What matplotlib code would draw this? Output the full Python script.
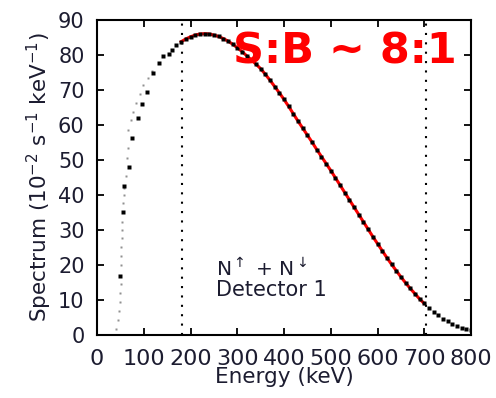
import numpy as np
import matplotlib
matplotlib.use("Agg")
import matplotlib.pyplot as plt

# main spectrum points (keV, 10^-2 s^-1 keV^-1)
energy = [160, 170, 180, 190, 200, 210, 220, 230, 240, 250, 260, 270, 280, 290,
          300, 310, 320, 330, 340, 350, 360, 370, 380, 390, 400, 410, 420, 430,
          440, 450, 460, 470, 480, 490, 500, 510, 520, 530, 540, 550, 560, 570,
          580, 590, 600, 610, 620, 630, 640, 650, 660, 670, 680, 690, 700, 710,
          720, 730, 740, 750, 760, 770, 780, 790, 800]
spectrum = [81.5, 82.8, 83.8, 84.6, 85.2, 85.7, 86.0, 86.1, 86.0, 85.7, 85.3, 84.7,
            84.0, 83.1, 82.1, 81.0, 79.8, 78.6, 77.4, 76.1, 74.5, 72.8, 71.0, 69.2,
            67.3, 65.3, 63.2, 61.1, 59.1, 57.1, 55.1, 53.0, 51.0, 49.0, 47.0, 44.9,
            42.8, 40.7, 38.6, 36.5, 34.4, 32.3, 30.2, 28.1, 26.1, 24.1, 22.1, 20.2,
            18.4, 16.6, 14.9, 13.3, 11.8, 10.3, 9.0, 7.8, 6.7, 5.6, 4.7, 3.9, 3.2,
            2.6, 2.1, 1.7, 1.3]

# rising edge, darker points
edge_e = [48.5, 55.7, 58.5, 68.5, 74, 88.5, 95.6, 106, 120.7, 133, 142, 153]
edge_s = [16.9, 35.2, 42.6, 48.1, 56.2, 61.9, 66.0, 69.5, 74.9, 77.6, 79.7, 80.3]

# rising edge, faint points
faint_e = [40, 44, 46, 49, 50, 50.5, 51, 52, 52, 53, 54, 54.5, 56, 57, 57.5,
           61, 63.5, 65.5, 67, 73, 78, 83.5, 92, 99, 110, 118]
faint_s = [1.6, 4.3, 6.9, 9.5, 12.1, 14.6, 20.0, 22.6, 25.2, 27.6, 30.0, 32.4,
           37.6, 40.0, 42.0, 45.5, 50.5, 53.3, 58.6, 61.4, 63.8, 66.4, 69.0,
           71.4, 73.3, 75.5]

fit_range = (180, 700)
cut_lines = [182, 703]

fig = plt.figure(figsize=(4.96, 3.98), dpi=100)
ax = fig.add_axes([0.1956, 0.1583, 0.7540, 0.7914])

e = np.array(energy)
s = np.array(spectrum)
m = (e >= fit_range[0]) & (e <= fit_range[1])
ax.plot(e[m], s[m], color="red", lw=2.2, zorder=2)

for x in cut_lines:
    ax.axvline(x, color="black", lw=1.5, ls=(0, (1, 3.5)), zorder=1)

ax.plot(faint_e, faint_s, "s", ms=1.7, color="#909090", mec="none", zorder=3)
ax.plot(edge_e, edge_s, "s", ms=3.2, color="black", mec="none", zorder=3)
ax.plot(energy, spectrum, "s", ms=2.4, color="black", mec="none", zorder=3)

ax.set_xlim(0, 800)
ax.set_ylim(0, 90)
ax.set_xticks(range(0, 801, 100))
ax.set_yticks(range(0, 91, 10))

txt = "#1c1c30"
ax.tick_params(direction="in", length=5, width=1.3, top=True, right=True,
               colors="black", labelcolor=txt)
ax.tick_params(axis="y", labelsize=15, pad=9)
ax.tick_params(axis="x", labelsize=16, pad=10)
for sp in ax.spines.values():
    sp.set_linewidth(1.5)

ax.set_xlabel("Energy (keV)", fontsize=15.5, color=txt, labelpad=-1)
ax.set_ylabel("Spectrum (10$^{-2}$ s$^{-1}$ keV$^{-1}$)", fontsize=15.5,
              color=txt, labelpad=3)

ax.text(254, 17.0, r"N$^{\uparrow}$ + N$^{\downarrow}$", fontsize=14.5, color=txt,
        va="baseline")
ax.text(254, 11.2, "Detector 1", fontsize=15, color=txt, va="baseline")

ax.text(290, 81, "S:B ~ 8:1", fontsize=31, fontweight="bold", color="red",
        va="center", ha="left", zorder=5)

fig.savefig("out.png", dpi=100)
